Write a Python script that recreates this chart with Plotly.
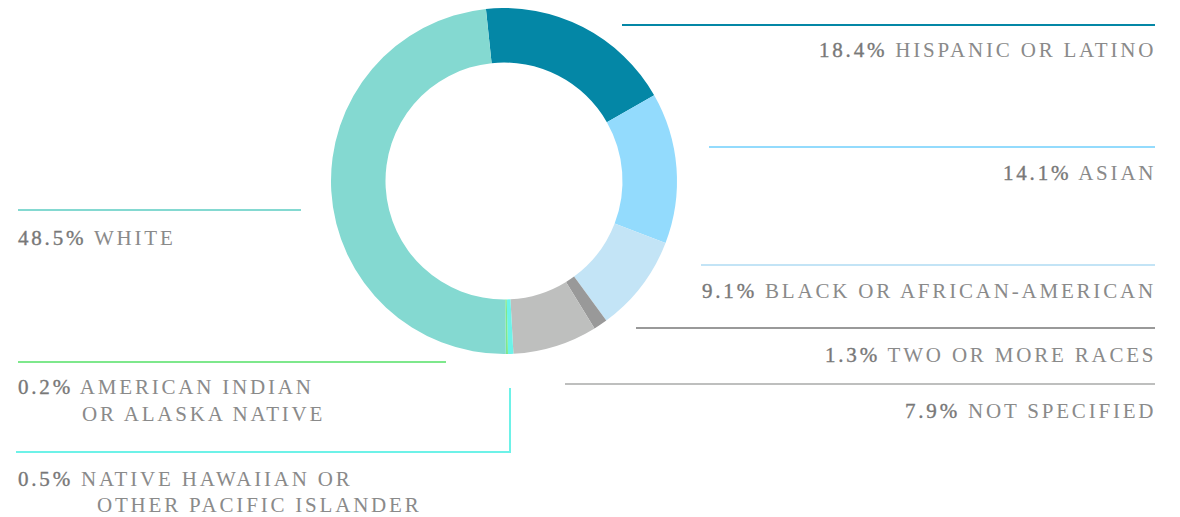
import plotly.graph_objects as go

# ---- data (clockwise from top) ----
labels = ["HISPANIC OR LATINO", "ASIAN", "BLACK OR AFRICAN-AMERICAN", "TWO OR MORE RACES",
          "NOT SPECIFIED", "NATIVE HAWAIIAN OR OTHER PACIFIC ISLANDER",
          "AMERICAN INDIAN OR ALASKA NATIVE", "WHITE"]
values = [18.4, 14.1, 9.1, 1.3, 7.9, 0.5, 0.2, 48.5]
colors = ["#0487a6", "#93dbfd", "#c3e4f6", "#999999", "#bebfbe", "#6df2e8", "#7ee88c", "#84d9d1"]

# page offset (body margin) compensation
OFF = 8
W, H = 1180 - OFF, 517 - OFF
FONT = "Liberation Serif"
GRAY = "#8a8a8a"
PGRAY = "#787878"
LS = "2.8px"


def px(x):
    return (x - OFF) / W


def py(y):
    return 1 - (y - OFF) / H


fig = go.Figure(go.Pie(
    labels=labels, values=values, sort=False, direction="clockwise", rotation=-6,
    hole=0.685, textinfo="none", hoverinfo="label+percent",
    marker=dict(colors=colors, line=dict(width=0)),
    domain=dict(x=[px(331), px(677)], y=[py(354), py(8)]),
))


def label(pct, name):
    return (f'<span style="letter-spacing:{LS}"><span style="fill:{PGRAY};stroke:{PGRAY};stroke-width:0.35px">{pct}</span> '
            f'{name}</span>')


def plain(txt):
    return f'<span style="letter-spacing:{LS}">{txt}</span>'


annotations = []
shapes = []


def add_text(x, y, txt, anchor):
    annotations.append(dict(x=px(x), y=py(y), xref="paper", yref="paper", text=txt, showarrow=False,
                            xanchor=anchor, yanchor="middle",
                            font=dict(family=FONT, size=21, color=GRAY)))


def add_line(x0, y0, x1, y1, color):
    shapes.append(dict(type="line", xref="paper", yref="paper", x0=px(x0), y0=py(y0), x1=px(x1), y1=py(y1),
                       line=dict(color=color, width=2)))


# right side labels
right = [
    (values[0], labels[0], colors[0], 622, 25, 50),
    (values[1], labels[1], colors[1], 709, 147, 173),
    (values[2], labels[2], colors[2], 701, 265, 291),
    (values[3], labels[3], colors[3], 636, 328, 355),
    (values[4], labels[4], colors[4], 565, 384, 411),
]
for v, name, c, x0, ly, ty in right:
    add_line(x0, ly, 1155, ly, c)
    add_text(1158, ty, label(f"{v}%", name), "right")

# white
add_line(18, 210, 301, 210, colors[7])
add_text(16, 238, label(f"{values[7]}%", labels[7]), "left")

# american indian
add_line(18, 362, 446, 362, colors[6])
add_text(16, 387, label(f"{values[6]}%", "AMERICAN INDIAN"), "left")
add_text(80, 414, plain("OR ALASKA NATIVE"), "left")

# native hawaiian
add_line(510, 388, 510, 452, colors[5])
add_line(16, 452, 511, 452, colors[5])
add_text(16, 479, label(f"{values[5]}%", "NATIVE HAWAIIAN OR"), "left")
add_text(95, 505, plain("OTHER PACIFIC ISLANDER"), "left")

fig.update_layout(
    width=W, height=H, margin=dict(l=0, r=0, t=0, b=0),
    paper_bgcolor="white", plot_bgcolor="white", showlegend=False,
    annotations=annotations, shapes=shapes,
)

fig.write_html("out.html")
